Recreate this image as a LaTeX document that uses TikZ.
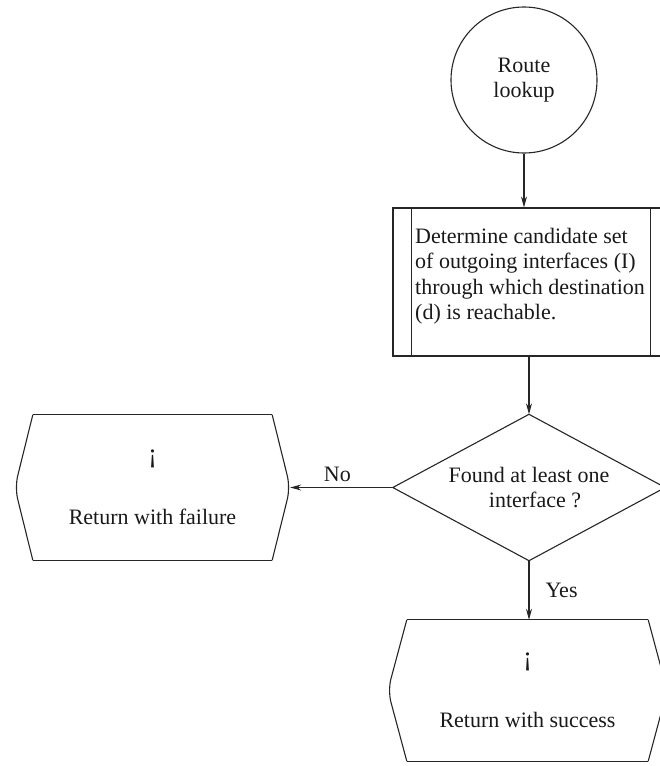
\documentclass[tikz,border=0pt]{standalone}
\usepackage{fontspec}
\setmainfont{Liberation Serif}
\usetikzlibrary{arrows.meta}
\begin{document}
\begin{tikzpicture}[x=1pt,y=-1pt,
  every node/.style={font=\fontsize{22}{25.5}\selectfont, inner sep=0pt, text=black!90},
  line/.style={line width=1.1pt, draw=black!85},
  arr/.style={line, -{Stealth[length=11pt,width=6pt]}},
  shapebox/.style={inner sep=0pt, align=center}]
\useasboundingbox (0,0) rectangle (660,766);
\clip (0,0) rectangle (660,766);

% start circle
\node[circle, line, draw, minimum size=146pt, align=center] (start) at (524,80) {Route\\lookup};

% predefined process
\node[line, draw, minimum width=276pt, minimum height=148pt] (proc) at (531,282) {};
\draw[line] ([xshift=19pt]proc.north west) -- ([xshift=19pt]proc.south west);
\draw[line] ([xshift=-19pt]proc.north east) -- ([xshift=-19pt]proc.south east);
\node[anchor=west, align=left] (proctext) at (415,276) {Determine candidate set\\of outgoing interfaces (I)\\through which destination\\(d) is reachable.};

% decision
\node[shapebox, minimum width=272pt, minimum height=146pt] (dec) at (529,487.5) {Found at least one\\\hspace*{12pt}interface ?};
\draw[line] (dec.north) -- (dec.east) -- (dec.south) -- (dec.west) -- cycle;

% failure return
\node[shapebox, minimum width=275pt, minimum height=145pt] (fail) at (152.5,487.5) {{\fontsize{27}{25}\selectfont ¡}\\[36pt]Return with failure};
\draw[line] ([xshift=18pt]fail.north west) -- ([xshift=-18pt]fail.north east);
\draw[line] ([xshift=18pt]fail.south west) -- ([xshift=-18pt]fail.south east);
\draw[line, rounded corners=12pt] ([xshift=-18pt]fail.north east) -- (fail.east) -- ([xshift=-18pt]fail.south east);
\draw[line, rounded corners=12pt] ([xshift=18pt]fail.north west) -- (fail.west) -- ([xshift=18pt]fail.south west);

% success return
\node[shapebox, minimum width=279pt, minimum height=141pt] (succ) at (527.5,690.5) {{\fontsize{27}{25}\selectfont ¡}\\[36pt]Return with success};
\draw[line] ([xshift=19pt]succ.north west) -- ([xshift=-19pt]succ.north east);
\draw[line] ([xshift=19pt]succ.south west) -- ([xshift=-19pt]succ.south east);
\draw[line, rounded corners=12pt] ([xshift=-19pt]succ.north east) -- (succ.east) -- ([xshift=-19pt]succ.south east);
\draw[line, rounded corners=12pt] ([xshift=19pt]succ.north west) -- (succ.west) -- ([xshift=19pt]succ.south west);

% connectors
\draw[arr] (start.south) -- (start.south |- proc.north);
\draw[arr] (dec.north |- proc.south) -- (dec.north);
\draw[arr] (dec.west) -- node[pos=0.54, above=5pt] (nolab) {No} (fail.east);
\draw[arr] (dec.south) -- node[pos=0.5, right=16pt] (yeslab) {Yes} (dec.south |- succ.north);
\end{tikzpicture}
\end{document}
